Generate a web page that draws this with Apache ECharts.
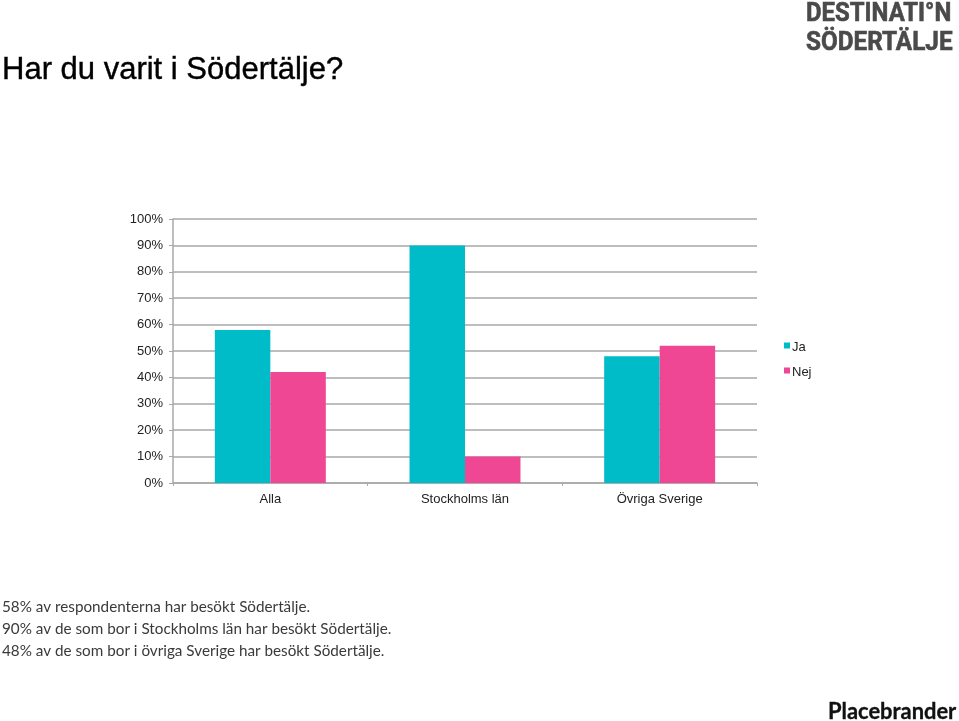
<!DOCTYPE html>
<html lang="sv">

<head>
  <meta charset="UTF-8">
  <title>Har du varit i Södertälje?</title>
  <style>
    html,
    body {
      margin: 0;
      padding: 0;
      background: #fff;
    }

    #chart {
      width: 959px;
      height: 721px;
    }
  </style>
</head>

<body>
  <div id="chart"></div>
  <script src="https://cdn.jsdelivr.net/npm/echarts@6/dist/echarts.min.js"></script>
  <script>
    var categories = ['Alla', 'Stockholms län', 'Övriga Sverige']
    var jaValues = [58, 90, 48]
    var nejValues = [42, 10, 52]
    var titleText = 'Har du varit i Södertälje?'
    var noteLines = [
      '58% av respondenterna har besökt Södertälje.',
      '90% av de som bor i Stockholms län har besökt Södertälje.',
      '48% av de som bor i övriga Sverige har besökt Södertälje.'
    ]
    var noteTops = [600, 622, 644]

    var myChart = echarts.init(document.getElementById('chart'))

    var graphics = noteLines.map(function (line, i) {
      return {
        type: 'text',
        x: 2,
        y: noteTops[i],
        style: { text: line, font: '15.25px Lato', fill: '#3a3a3a' }
      }
    })
    // logo, squeezed a little because no condensed font is installed
    graphics.push({
      type: 'text',
      x: 806,
      y: 1,
      scaleX: 0.92,
      style: { text: 'DESTINATI°N', font: 'bold 26px Roboto', fill: '#4a4a4a', stroke: '#4a4a4a', lineWidth: 0.6 }
    })
    graphics.push({
      type: 'text',
      x: 806,
      y: 30,
      scaleX: 0.935,
      style: { text: 'SÖDERTÄLJE', font: 'bold 26px Roboto', fill: '#4a4a4a', stroke: '#4a4a4a', lineWidth: 0.6 }
    })
    graphics.push({
      type: 'text',
      x: 828,
      y: 701,
      style: { text: 'Placebrander', font: 'bold 21.9px Lato', fill: '#111', stroke: '#111', lineWidth: 0.3 }
    })

    var option = {
      animation: false,
      title: {
        text: titleText,
        left: 2,
        top: 55,
        padding: 0,
        textStyle: {
          fontFamily: 'Liberation Sans',
          fontSize: 31,
          fontWeight: 'normal',
          color: '#000',
          textBorderColor: '#000',
          textBorderWidth: 0.4
        }
      },
      legend: {
        orient: 'vertical',
        left: 784,
        top: 341,
        padding: 0,
        itemWidth: 6,
        itemHeight: 6,
        itemGap: 12,
        icon: 'rect',
        formatter: '{t|{name}}',
        textStyle: {
          rich: {
            // top padding drops the word below the square, as in the original
            t: {
              fontFamily: 'Liberation Sans',
              fontSize: 13,
              color: '#222',
              padding: [4, 0, 0, -3]
            }
          }
        },
        data: ['Ja', 'Nej']
      },
      grid: { left: 173, right: 202, top: 219, bottom: 238 },
      xAxis: {
        type: 'category',
        data: categories,
        axisLine: { lineStyle: { color: '#a8a8a8', width: 1.5 } },
        axisTick: { show: true, length: 3, lineStyle: { color: '#a8a8a8' } },
        axisLabel: {
          fontFamily: 'Liberation Sans',
          fontSize: 13,
          color: '#222',
          margin: 10
        }
      },
      yAxis: {
        type: 'value',
        min: 0,
        max: 100,
        interval: 10,
        axisLine: { show: true, lineStyle: { color: '#a8a8a8', width: 1.5 } },
        axisTick: { show: true, length: 4, lineStyle: { color: '#a8a8a8' } },
        axisLabel: {
          formatter: '{value}%',
          fontFamily: 'Liberation Sans',
          fontSize: 13,
          color: '#222',
          margin: 10,
          padding: [4, 0, 0, 0]
        },
        splitLine: { show: true, lineStyle: { color: '#a8a8a8', width: 1.5 } }
      },
      series: [
        {
          name: 'Ja',
          type: 'bar',
          data: jaValues,
          barGap: 0,
          barCategoryGap: '43%',
          itemStyle: { color: '#00bcc8' }
        },
        {
          name: 'Nej',
          type: 'bar',
          data: nejValues,
          itemStyle: { color: '#ef4793' }
        }
      ],
      graphic: graphics
    }
    myChart.setOption(option)
  </script>
</body>

</html>
